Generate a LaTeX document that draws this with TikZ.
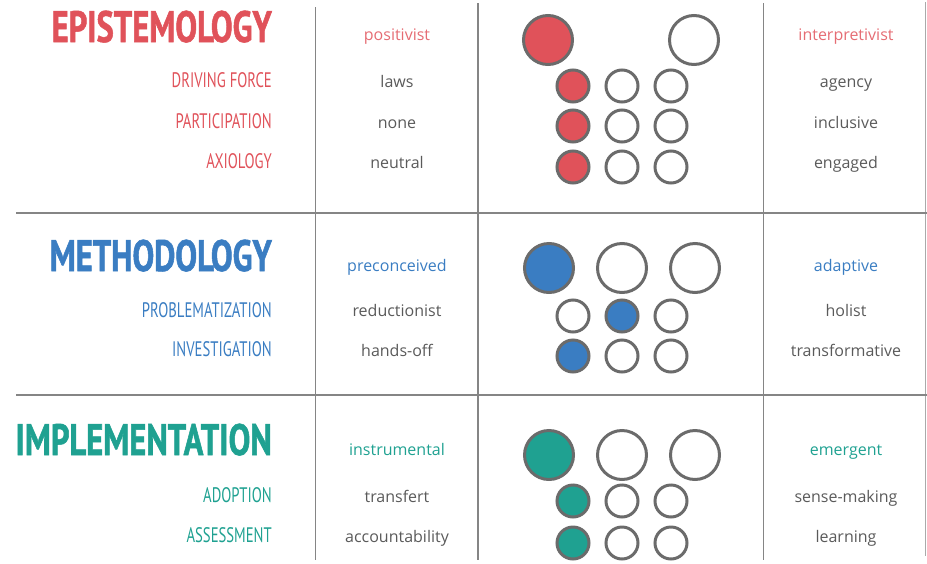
\documentclass[tikz,border=0pt]{standalone}
\usepackage{fontspec}
\setmainfont{Open Sans}
\newfontfamily\headfont[FakeStretch=0.7]{PT Sans}
\newfontfamily\headbold[FakeStretch=0.74,FakeBold=1.2]{PT Sans}
\definecolor{epi}{HTML}{E0525A}
\definecolor{met}{HTML}{3A7DC2}
\definecolor{imp}{HTML}{1FA191}
\definecolor{txt}{HTML}{5A5A5A}
\definecolor{ring}{HTML}{6B6B6B}
\definecolor{rule}{HTML}{858585}
\tikzset{
  head/.style={anchor=base east, inner sep=0pt, font=\headbold\bfseries\fontsize{44}{44}\selectfont},
  sub/.style={anchor=base east, inner sep=0pt, font=\headfont\fontsize{21}{21}\selectfont},
  term/.style={anchor=base, inner sep=0pt, font=\fontsize{16}{16}\selectfont, text=txt},
  big/.style={circle, draw=ring, line width=3pt, minimum size=49pt, inner sep=0pt},
  small/.style={circle, draw=ring, line width=3pt, minimum size=32pt, inner sep=0pt},
  gridline/.style={draw=rule, line width=1.6pt}
}
\begin{document}
\begin{tikzpicture}[x=1pt,y=-1pt]
\useasboundingbox (0,0) rectangle (927,563);
% grid
\draw[gridline] (315.5,7) -- (315.5,560);
\draw[gridline] (478,3) -- (478,560);
\draw[gridline] (763.5,3) -- (763.5,560);
\draw[gridline, draw=rule!70] (925.5,2) -- (925.5,556);
\draw[gridline] (16,213) -- (927,213);
\draw[gridline] (16,395) -- (927,395);

% ---------- Epistemology
\node[head, text=epi] (eh) at (272,42) {EPISTEMOLOGY};
\node[sub, text=epi] (e1) at (272,87) {DRIVING FORCE};
\node[sub, text=epi] (e2) at (272,128) {PARTICIPATION};
\node[sub, text=epi] (e3) at (272,168) {AXIOLOGY};
\node[term, text=epi!85] (el0) at (397,40) {positivist};
\node[term] (el1) at (397,87) {laws};
\node[term] (el2) at (397,128) {none};
\node[term] (el3) at (397,168) {neutral};
\node[term, text=epi!85] (er0) at (846,40) {interpretivist};
\node[term] (er1) at (846,87) {agency};
\node[term] (er2) at (846,128) {inclusive};
\node[term] (er3) at (846,168) {engaged};
\node[big, fill=epi] (ec01) at (548,40) {};
\node[big] (ec03) at (694,40) {};
\foreach \r/\y in {1/86,2/126,3/167}{
  \node[small, fill=epi] (ec\r1) at (573,\y) {};
  \node[small] (ec\r2) at (622,\y) {};
  \node[small] (ec\r3) at (671,\y) {};
}

% ---------- Methodology
\node[head, text=met] (mh) at (272,271) {METHODOLOGY};
\node[sub, text=met] (m1) at (272,317) {PROBLEMATIZATION};
\node[sub, text=met] (m2) at (272,356) {INVESTIGATION};
\node[term, text=met] (ml0) at (397,271) {preconceived};
\node[term] (ml1) at (397,316) {reductionist};
\node[term] (ml2) at (397,356) {hands-off};
\node[term, text=met] (mr0) at (846,271) {adaptive};
\node[term] (mr1) at (846,316) {holist};
\node[term] (mr2) at (846,356) {transformative};
\node[big, fill=met] (mc01) at (549,268) {};
\node[big] (mc02) at (622,268) {};
\node[big] (mc03) at (695,268) {};
\node[small] (mc11) at (573,316) {};
\node[small, fill=met] (mc12) at (622,316) {};
\node[small] (mc13) at (671,316) {};
\node[small, fill=met] (mc21) at (573,356) {};
\node[small] (mc22) at (622,356) {};
\node[small] (mc23) at (671,356) {};

% ---------- Implementation
\node[head, text=imp] (ih) at (272,455) {IMPLEMENTATION};
\node[sub, text=imp] (i1) at (272,502) {ADOPTION};
\node[sub, text=imp] (i2) at (272,542) {ASSESSMENT};
\node[term, text=imp] (il0) at (397,455) {instrumental};
\node[term] (il1) at (397,502) {transfert};
\node[term] (il2) at (397,542) {accountability};
\node[term, text=imp] (ir0) at (846,455) {emergent};
\node[term] (ir1) at (846,502) {sense-making};
\node[term] (ir2) at (846,542) {learning};
\node[big, fill=imp] (ic01) at (549,455) {};
\node[big] (ic02) at (622,455) {};
\node[big] (ic03) at (695,455) {};
\foreach \r/\y in {1/501,2/543}{
  \node[small, fill=imp] (ic\r1) at (573,\y) {};
  \node[small] (ic\r2) at (622,\y) {};
  \node[small] (ic\r3) at (671,\y) {};
}
\end{tikzpicture}
\end{document}
